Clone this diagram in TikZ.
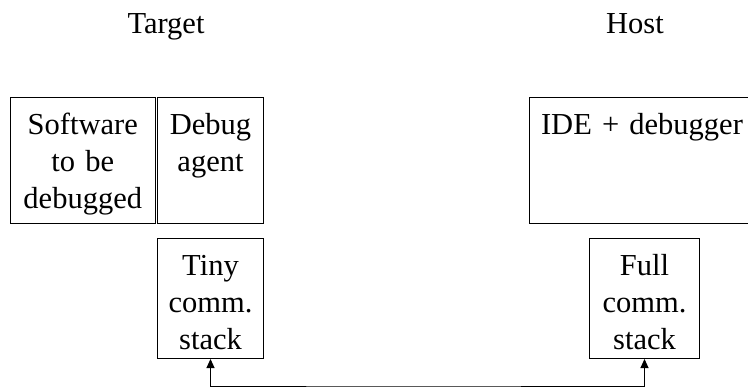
\documentclass[tikz,border=0pt]{standalone}
\usepackage{fontspec}
\setmainfont{Liberation Serif}
\usetikzlibrary{arrows.meta}

\begin{document}
\begin{tikzpicture}[
    x=1pt, y=-1pt, % one unit is one pixel, y grows downwards
    font=\fontsize{30.5}{37}\selectfont, % large serif text
    every node/.style={inner sep=0pt},
    title/.style={anchor=base}, % titles sit on a common baseline
    box/.style={
        draw, % thin black frame
        line width=1pt,
        anchor=north west, % placed by its top left corner
        align=center, % centre the lines
        text height=37pt % first baseline below the top edge
    },
    link/.style={line width=1pt, {Triangle[length=9pt,width=8pt]}-{Triangle[length=9pt,width=8pt]}}
]
\useasboundingbox (0,0) rectangle (748,389);

% column titles
\node[title] (target) at (166,33) {Target};
\node[title] (host) at (635,33) {Host};

% target side
\node[box, text width=145.5pt, text depth=89pt] (software) at (9.5,97) {Software\\to be\\debugged};
\node[box, text width=106pt, text depth=89pt] (agent) at (157,97) {Debug\\agent};
\node[box, text width=106pt, text depth=83pt] (tinystack) at (157,238) {Tiny\\comm.\\stack};

% host side
\node[box, text width=225pt, text depth=89pt] (ide) at (529,97) {IDE + debugger};
\node[box, text width=110pt, text depth=83pt] (fullstack) at (589,238) {Full\\comm.\\stack};

% link between the two stacks
\coordinate (bus) at (400,386);
\draw[link] (tinystack.south) |- (bus) -| (fullstack.south);
\end{tikzpicture}
\end{document}
